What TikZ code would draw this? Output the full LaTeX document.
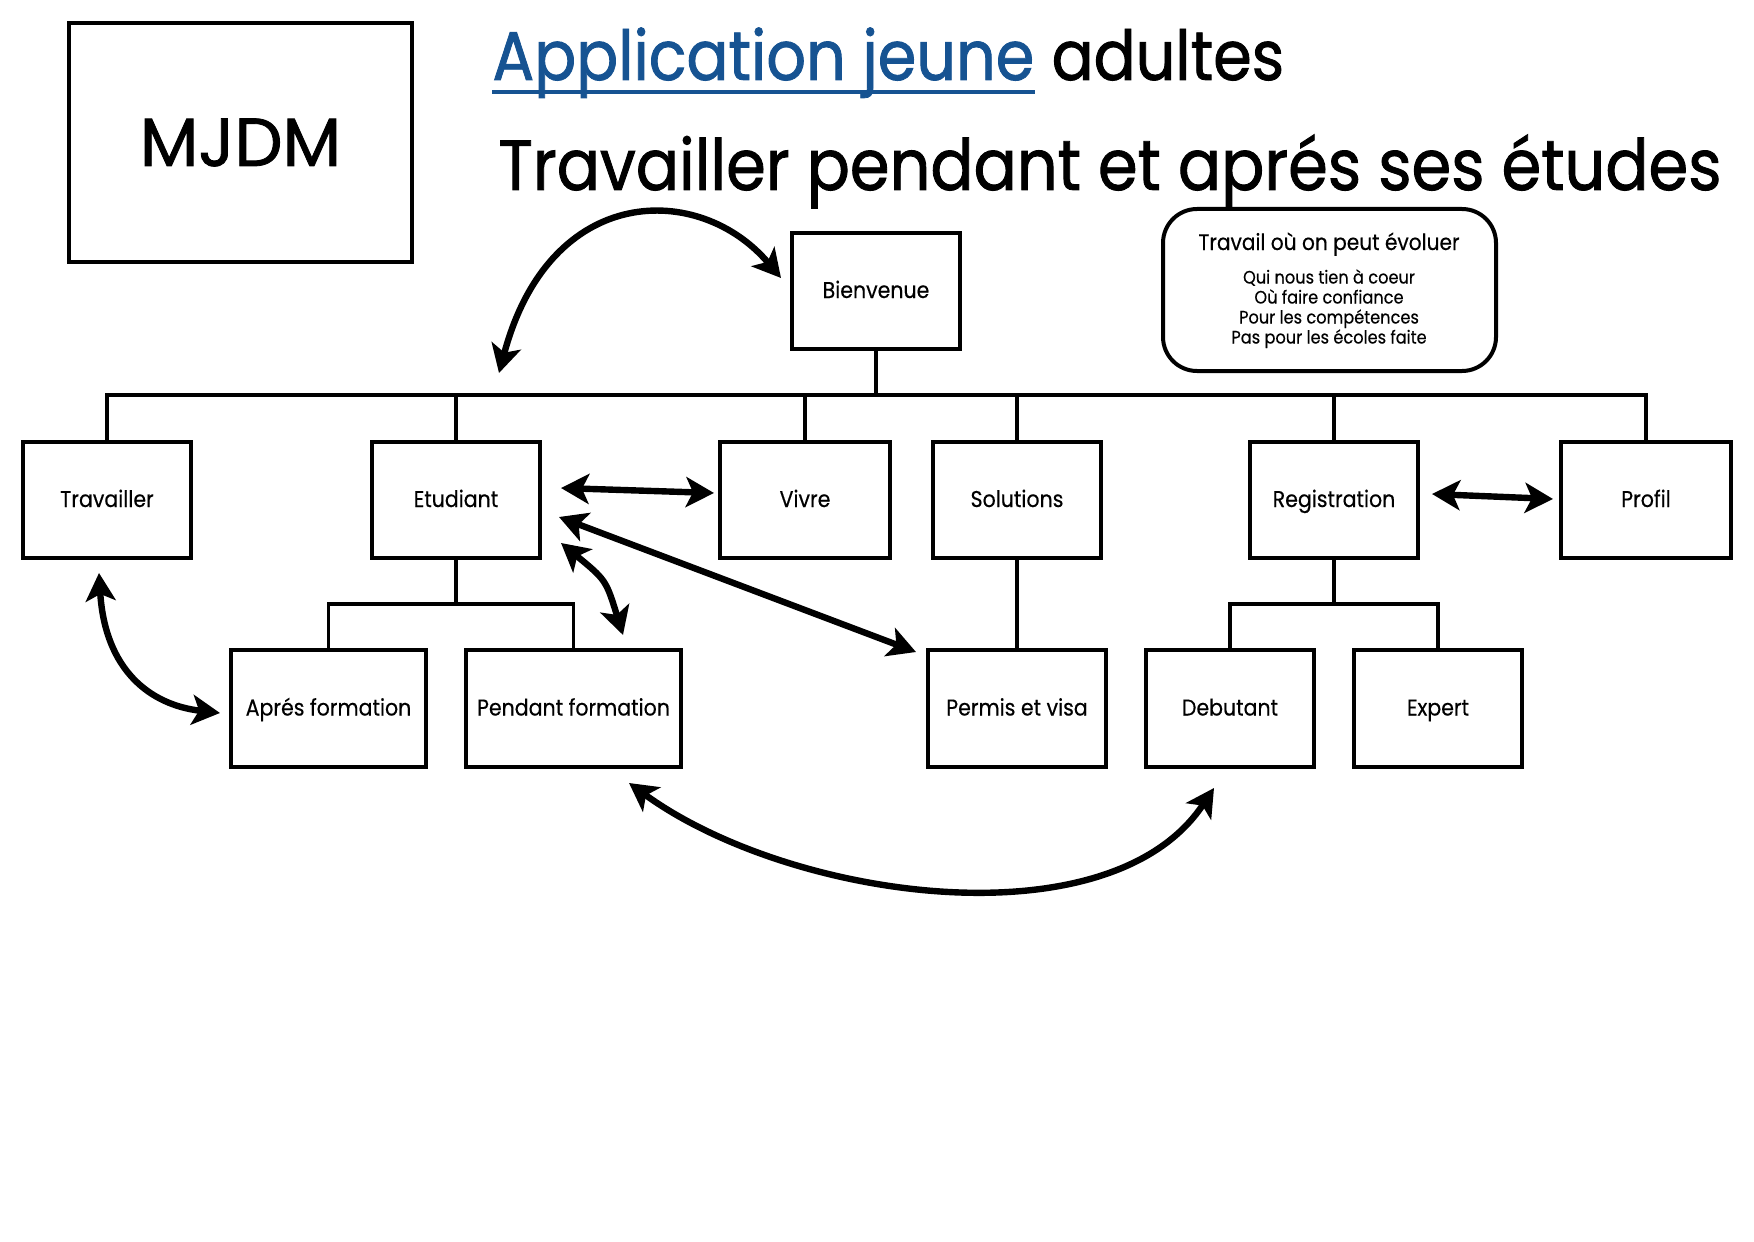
\documentclass[tikz,border=0pt]{standalone}
\usepackage{fontspec}
\setmainfont{Poppins}[FakeStretch=0.9, FakeBold=0.4]
\newfontfamily\titlefont{Poppins}[FakeStretch=0.9, FakeBold=1.2]
\newfontfamily\widefont{Poppins}[FakeBold=1.2]
\usetikzlibrary{arrows.meta}
\definecolor{titleblue}{RGB}{22,83,146}
\begin{document}
\begin{tikzpicture}[x=0.5pt,y=-0.5pt,
  box/.style 2 args={draw, line width=2pt, minimum width=#1, minimum height=#2, inner sep=0pt, text height=8.5pt, text depth=1.5pt, font=\fontsize{11.4pt}{13pt}\selectfont},
  bus/.style={line width=1.6pt},
  arr/.style={line width=3.2pt, {Stealth[length=14pt,width=15pt,inset=3.5pt]}-{Stealth[length=14pt,width=15pt,inset=3.5pt]}},
  lbl/.style={inner sep=0pt},
  small/.style={inner sep=0pt, anchor=base, font=\fontsize{9pt}{10pt}\selectfont}]
\useasboundingbox (0,0) rectangle (1754,1241);

% title
\node[lbl, anchor=base west, font=\titlefont\fontsize{34.5pt}{40pt}\selectfont, text=titleblue] (t1a) at (492,80) {Application jeune};
\node[lbl, anchor=base west, font=\titlefont\fontsize{34.5pt}{40pt}\selectfont] (t1b) at (t1a.base east) {\ adultes};
\draw[titleblue, line width=1.6pt] ([yshift=-6pt]t1a.base west) -- ([yshift=-6pt]t1a.base east);
\node[lbl, anchor=base west, font=\titlefont\fontsize{35.5pt}{40pt}\selectfont] (t2) at (498,190) {Travailler pendant et aprés ses études};

% boxes
\node[box={171.5pt}{119.5pt}, text height=, text depth=, font=\widefont\fontsize{34pt}{40pt}\selectfont] (mjdm) at (240.5,142.5) {MJDM};
\node[box={84pt}{58pt}] (bien) at (876,291) {Bienvenue};
\node[draw, line width=2pt, rounded corners=17pt, minimum width=166.5pt, minimum height=81pt] (note) at (1329.5,290) {};
\node[lbl, anchor=base, font=\fontsize{11.2pt}{13pt}\selectfont] (noteh) at (1329,250) {Travail où on peut évoluer};
\node[small] (n1) at (1329,283.5) {Qui nous tien à coeur};
\node[small] (n2) at (1329,303.5) {Où faire confiance};
\node[small] (n3) at (1329,323.5) {Pour les compétences};
\node[small] (n4) at (1329,343.5) {Pas pour les écoles faite};

\node[box={84pt}{58pt}] (trav) at (107,500) {Travailler};
\node[box={84pt}{58pt}] (etu) at (456,500) {Etudiant};
\node[box={85pt}{58pt}] (viv) at (805,500) {Vivre};
\node[box={84pt}{58pt}] (sol) at (1017,500) {Solutions};
\node[box={84pt}{58pt}] (reg) at (1334,500) {Registration};
\node[box={85pt}{58pt}] (prof) at (1646,500) {Profil};

\node[box={97.5pt}{58.5pt}] (apr) at (328.5,708.5) {Aprés formation};
\node[box={107.5pt}{58.5pt}] (pen) at (573.5,708.5) {Pendant formation};
\node[box={89pt}{58.5pt}] (per) at (1017,708.5) {Permis et visa};
\node[box={84pt}{58.5pt}] (deb) at (1230,708.5) {Debutant};
\node[box={84pt}{58.5pt}] (exp) at (1438,708.5) {Expert};

% tree lines
\coordinate (busy) at (0,395);
\coordinate (suby) at (0,604);
\draw[bus] (trav.north) -- (trav.north |- busy) -- (prof.north |- busy) -- (prof.north);
\draw[bus] (bien.south) -- (bien.south |- busy);
\draw[bus] (etu.north) -- (etu.north |- busy);
\draw[bus] (viv.north) -- (viv.north |- busy);
\draw[bus] (sol.north) -- (sol.north |- busy);
\draw[bus] (reg.north) -- (reg.north |- busy);
\draw[bus] (etu.south) -- (etu.south |- suby);
\draw[bus] (apr.north) -- (apr.north |- suby) -- (pen.north |- suby) -- (pen.north);
\draw[bus] (reg.south) -- (reg.south |- suby);
\draw[bus] (deb.north) -- (deb.north |- suby) -- (exp.north |- suby) -- (exp.north);
\draw[bus] (sol.south) -- (per.north);

% arrows
\coordinate (a1s) at (499,373);
\coordinate (a1e) at (781,278);
\draw[arr] (a1s) .. controls (550,182) and (700,182) .. (a1e);
\coordinate (a2s) at (561,488);
\coordinate (a2e) at (714,493);
\draw[arr] (a2s) -- (a2e);
\coordinate (a3s) at (559,517);
\coordinate (a3e) at (916,652);
\draw[arr] (a3s) -- (a3e);
\coordinate (a4s) at (561,543);
\coordinate (a4e) at (623,635);
\draw[arr] (a4s) .. controls (606,580) .. (a4e);
\coordinate (a5s) at (99,573);
\coordinate (a5e) at (220,713);
\draw[arr] (a5s) .. controls (105,670) and (150,705) .. (a5e);
\coordinate (a6s) at (1432,494);
\coordinate (a6e) at (1553,499);
\draw[arr] (a6s) -- (a6e);
\coordinate (a7s) at (629,783);
\coordinate (a7e) at (1214,788);
\draw[arr] (a7s) .. controls (790,900) and (1110,945) .. (a7e);
\end{tikzpicture}
\end{document}
